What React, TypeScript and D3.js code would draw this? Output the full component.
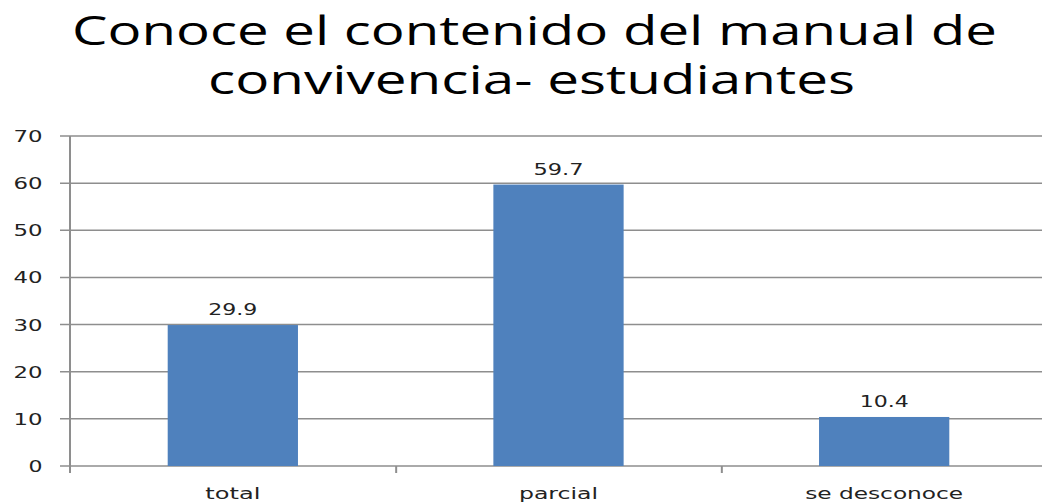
import React from "react";
import * as d3 from "d3";

const categories = ["total", "parcial", "se desconoce"];
const values = [29.9, 59.7, 10.4];
const valueLabels = ["29.9", "59.7", "10.4"];
const yTicks = [0, 10, 20, 30, 40, 50, 60, 70];
const titleLines = ["Conoce el contenido del manual de", "convivencia- estudiantes"];

const W = 1042;
const H = 504;
const left = 70;
const right = 1047;
const top = 136;
const bottom = 466;

const catWidths = [55, 79, 158];
const valWidths = [49, 50, 49];

export default function App() {
  const x = d3.scaleBand<string>().domain(categories).range([left, right]).paddingInner(0.6).paddingOuter(0.3);
  const y = d3.scaleLinear().domain([0, 70]).range([bottom, top]);
  const step = x.step();
  const boundaries = categories.slice(1).map((c) => (x(c) as number) - (step * 0.6) / 2 + 0.5);
  const grid = "#8e8e8e";
  const font = "'DejaVu Sans', Verdana, sans-serif";
  return (
    <svg width={W} height={H} style={{ position: "absolute", left: 0, top: 0, background: "#fff" }}>
      <rect width={W} height={H} fill="#fff" />
      <text x={534.5} y={45} textAnchor="middle" fontFamily="'Open Sans', sans-serif" fontSize={40} fill="#000" textLength={925} lengthAdjust="spacingAndGlyphs">
        {titleLines[0]}
      </text>
      <text x={531.5} y={94} textAnchor="middle" fontFamily="'Open Sans', sans-serif" fontSize={40} fill="#000" textLength={647} lengthAdjust="spacingAndGlyphs">
        {titleLines[1]}
      </text>
      {yTicks.map((t) => (
        <g key={t}>
          <line x1={60} x2={W} y1={y(t)} y2={y(t)} stroke={grid} strokeWidth={1.5} />
          <text x={42.5} y={y(t) + 6} textAnchor="end" fontFamily={font} fontSize={16} fill="#222" textLength={t === 0 ? 14 : 29} lengthAdjust="spacingAndGlyphs">
            {t}
          </text>
        </g>
      ))}
      <line x1={left} x2={left} y1={top} y2={bottom + 7} stroke={grid} strokeWidth={2} />
      {boundaries.map((b, i) => (
        <line key={i} x1={b} x2={b} y1={bottom} y2={bottom + 7} stroke={grid} strokeWidth={2} />
      ))}
      {categories.map((c, i) => (
        <g key={c}>
          <rect x={x(c)} y={y(values[i])} width={x.bandwidth()} height={bottom - y(values[i])} fill="#4F81BD" />
          <text x={(x(c) as number) + x.bandwidth() / 2} y={y(values[i]) - 10} textAnchor="middle" fontFamily={font} fontSize={16} fill="#222" textLength={valWidths[i]} lengthAdjust="spacingAndGlyphs">
            {valueLabels[i]}
          </text>
          <text x={(x(c) as number) + x.bandwidth() / 2} y={499} textAnchor="middle" fontFamily={font} fontSize={16} fill="#222" textLength={catWidths[i]} lengthAdjust="spacingAndGlyphs">
            {c}
          </text>
        </g>
      ))}
    </svg>
  );
}
